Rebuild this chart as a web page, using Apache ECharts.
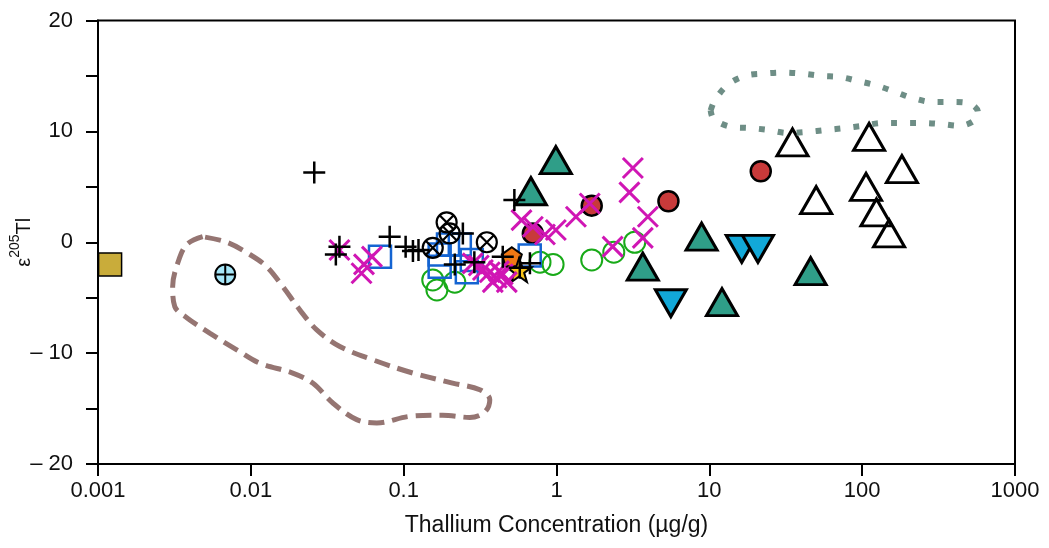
<!DOCTYPE html>
<html>
<head>
<meta charset="utf-8">
<script src="https://cdn.jsdelivr.net/npm/echarts@6/dist/echarts.min.js"></script>
<style>
html,body{margin:0;padding:0;background:#fff;}
#chart{width:1049px;height:548px;}
</style>
</head>
<body>
<div id="chart"></div>
<script>
// ---- tick labels ----
const xTickLabels = ['0.001', '0.01', '0.1', '1', '10', '100', '1000'];
const yTickValues = [-20, -10, 0, 10, 20];
const yTickText = ['\u2013 20', '\u2013 10', '0', '10', '20'];

// ---- data: [Tl concentration (µg/g), ε205Tl] ----
const goldSquare = [[0.0012, -2.0]];
const blueCrossCircle = [[0.0068, -2.9]];
const blackPlus = [[0.026, 6.3], [0.038, -0.4], [0.036, -1.1], [0.081, 0.5], [0.103, -0.4], [0.115, -0.8], [0.125, -0.7],
  [0.244, 0.8], [0.216, -2.0], [0.29, -1.8], [0.445, -1.3], [0.53, 3.8], [0.67, -1.9], [0.575, -2.3]];
const magentaX = [[0.038, -0.7], [0.062, -1.3], [0.055, -2.0], [0.053, -2.8], [0.283, -1.9], [0.31, -2.1], [0.33, -2.5],
  [0.366, -2.7], [0.406, -3.2], [0.42, -2.6], [0.445, -2.9], [0.473, -3.6], [0.383, -3.6], [0.59, 2.0], [0.70, 1.4],
  [0.84, 0.7], [0.99, 1.1], [1.34, 2.3], [1.65, 3.5], [3.16, 6.7], [3.0, 4.5], [3.96, 2.3], [3.67, 0.4], [2.33, -0.4]];
const blueSquares = [[0.070, -1.3], [0.172, -1.1], [0.195, -0.2], [0.172, -2.2], [0.233, -0.2], [0.279, -1.6], [0.259, -2.7], [0.668, -1.2]];
const greenCircles = [[0.155, -3.4], [0.165, -4.3], [0.216, -3.6], [0.78, -1.8], [0.95, -2.0], [1.70, -1.6], [2.37, -0.9], [3.25, 0.0]];
const crossCircles = [[0.191, 1.8], [0.20, 0.8], [0.155, -0.5], [0.35, 0.0]];
const redCircles = [[0.70, 0.8], [1.70, 3.3], [5.4, 3.7], [21.7, 6.4]];
const tealTriangles = [[0.99, 7.4], [0.68, 4.6], [3.67, -2.2], [8.9, 0.5], [12.1, -5.4], [46, -2.6]];
const blueDownTriangles = [[16.3, -0.6], [20.8, -0.6], [5.6, -5.5]];
const whiteTriangles = [[35, 9.0], [50, 3.8], [111, 9.5], [182, 6.6], [106, 5.0], [124, 2.7], [150, 0.8]];
const orangePentagon = [[0.51, -1.3]];
const yellowStar = [[0.57, -2.5]];

// ---- field outlines ----
const dashedField = [[0.00484, 0.5], [0.00381, -0.2], [0.00332, -1.9], [0.00308, -4.0], [0.00318, -5.8], [0.00381, -6.8],
  [0.00538, -8.2], [0.00809, -9.7], [0.0114, -10.9], [0.0188, -11.8], [0.0254, -12.7], [0.0344, -14.5], [0.0493, -16.0],
  [0.0667, -16.3], [0.110, -15.7], [0.180, -15.6], [0.271, -15.8], [0.340, -15.3], [0.366, -14.2], [0.315, -13.3],
  [0.209, -12.7], [0.115, -11.8], [0.0628, -10.6], [0.0382, -9.4], [0.027, -7.9], [0.0209, -6.1], [0.0162, -4.0],
  [0.0127, -2.2], [0.00984, -1.1], [0.00695, 0.0], [0.00484, 0.5]];
const dottedField = [[10.2, 11.9], [10.86, 12.8], [13.2, 14.2], [17.1, 15.0], [22.4, 15.2], [30.3, 15.3], [40.9, 15.2],
  [54.5, 15.0], [71.5, 14.9], [96.6, 14.5], [126.8, 14.1], [168.7, 13.5], [214.8, 13.0], [290, 12.65], [386, 12.65],
  [507, 12.5], [572, 11.75], [564, 11.2], [436, 10.5], [322, 10.67], [246, 10.76], [182, 10.76], [136.5, 10.76],
  [101, 10.5], [77.1, 10.3], [58.7, 10.13], [43.5, 9.95], [32.7, 9.86], [24.2, 10.13], [18.4, 10.3], [14.0, 10.4],
  [10.7, 11.1], [10.2, 11.9]];

const FONT = "'Liberation Sans', Arial, Helvetica, sans-serif";
const PLUS = 'path://M0,-10L0,10M-10,0L10,0';
const CROSS = 'path://M-10,-10L10,10M-10,10L10,-10';
const OTIMES = 'path://M-10,0A10,10,0,1,1,10,0A10,10,0,1,1,-10,0ZM-7.07,-7.07L7.07,7.07M-7.07,7.07L7.07,-7.07';
const OPLUS = 'path://M-10,0A10,10,0,1,1,10,0A10,10,0,1,1,-10,0ZM0,-10L0,10M-10,0L10,0';
const PENT = 'path://M0,-1L0.951,-0.309L0.588,0.809L-0.588,0.809L-0.951,-0.309Z';
const STAR = 'path://M0,-1L0.235,-0.324L0.951,-0.309L0.380,0.124L0.588,0.809L0,0.4L-0.588,0.809L-0.380,0.124L-0.951,-0.309L-0.235,-0.324Z';

function sc(data, symbol, size, fill, stroke, width, extra) {
  return Object.assign({
    type: 'scatter', data: data, symbol: symbol, symbolSize: size,
    itemStyle: { color: fill, borderColor: stroke, borderWidth: width, opacity: 1 },
    emphasis: { disabled: true }, silent: true
  }, extra || {});
}

const chart = echarts.init(document.getElementById('chart'), null, { renderer: 'canvas' });
chart.setOption({
  animation: false,
  backgroundColor: '#fff',
  grid: { left: 98, right: 34, top: 20.5, bottom: 84, containLabel: false, outerBoundsMode: 'none',
    show: true, borderColor: '#000', borderWidth: 2, backgroundColor: 'transparent' },
  xAxis: {
    type: 'log', logBase: 10, min: 0.001, max: 1000,
    name: 'Thallium Concentration (\u00b5g/g)', nameLocation: 'middle', nameGap: 50, nameMoveOverlap: false,
    nameTextStyle: { fontFamily: FONT, fontSize: 23, color: '#111' },
    axisLine: { show: true, onZero: false, lineStyle: { color: '#000', width: 2 } },
    axisTick: { show: true, inside: false, length: 12, lineStyle: { color: '#000', width: 2 } },
    axisLabel: {
      margin: 16, fontFamily: FONT, fontSize: 22, color: '#111',
      formatter: function (v) { const i = Math.round(Math.log10(v)) + 3; return xTickLabels[i] || ''; }
    },
    splitLine: { show: false }, minorTick: { show: false }
  },
  yAxis: {
    type: 'value', min: -20, max: 20, interval: 5,
    name: '{e|\u03b5}{s|205}{e|Tl}', nameLocation: 'middle', nameRotate: 90, nameGap: 64, nameMoveOverlap: false,
    nameTextStyle: {
      fontFamily: FONT, color: '#111',
      rich: {
        e: { fontFamily: FONT, fontSize: 20, color: '#111', verticalAlign: 'bottom', lineHeight: 26 },
        s: { fontFamily: FONT, fontSize: 14, color: '#111', verticalAlign: 'top', lineHeight: 26 }
      }
    },
    axisLine: { show: true, onZero: false, lineStyle: { color: '#000', width: 2 } },
    axisTick: { show: true, inside: false, length: 12, lineStyle: { color: '#000', width: 2 } },
    axisLabel: {
      margin: 25, fontFamily: FONT, fontSize: 22, color: '#111',
      formatter: function (v) { const i = yTickValues.indexOf(v); return i >= 0 ? yTickText[i] : ''; }
    },
    splitLine: { show: false }
  },
  series: [
    { type: 'line', data: dashedField, showSymbol: false, symbol: 'none', smooth: 0.35, silent: true,
      lineStyle: { color: '#957572', width: 5, type: [16, 8], cap: 'butt' } },
    { type: 'line', data: dottedField, showSymbol: false, symbol: 'none', smooth: 0.35, silent: true,
      lineStyle: { color: '#6e8e86', width: 6, type: [6, 13], cap: 'butt' } },
    sc(tealTriangles, 'triangle', [31, 27], '#2f9e88', '#000', 3),
    sc(whiteTriangles, 'triangle', [31, 27], 'rgba(0,0,0,0)', '#000', 3),
    sc(blueDownTriangles, 'triangle', [31, 27], '#12a8d8', '#000', 3, { symbolRotate: 180 }),
    sc(redCircles, 'circle', 20, '#c83a3a', '#000', 2.5),
    sc(greenCircles, 'circle', 21, 'rgba(0,0,0,0)', '#18aa18', 2),
    sc(blueSquares, 'rect', 22, 'rgba(0,0,0,0)', '#1464d2', 2.5),
    sc(crossCircles, OTIMES, 20, 'rgba(0,0,0,0)', '#000', 2.2),
    sc(goldSquare, 'rect', 23, '#c9ac3a', '#000', 1.5),
    sc(blueCrossCircle, OPLUS, 20, '#a6e6f8', '#000', 2),
    sc(orangePentagon, PENT, [20, 19], '#f07814', '#000', 2),
    sc(yellowStar, STAR, [25, 24], '#f8c418', '#000', 2),
    sc(magentaX, CROSS, 20, 'rgba(0,0,0,0)', '#d016b4', 3),
    sc(blackPlus, PLUS, 22, 'rgba(0,0,0,0)', '#000', 2.5)
  ]
});
</script>
</body>
</html>
